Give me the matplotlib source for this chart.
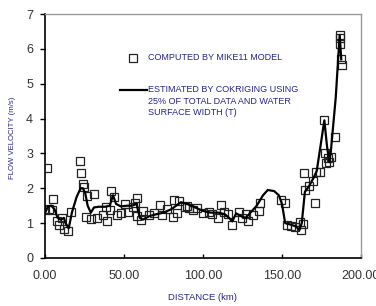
import matplotlib
matplotlib.use("Agg")
import matplotlib.pyplot as plt

plt.rcParams['font.family'] = ['Liberation Sans', 'DejaVu Sans']

# computed by MIKE11 (squares)
comp_x = [0, 1.3, 2.5, 4.4, 5, 7.6, 9, 10.8, 12, 14.6, 16.5, 22, 22.5, 24, 24.7, 26, 26.6,
          29, 31, 32.8, 36.7, 38.6, 39, 41, 41.8, 43.7, 45.5, 48, 50.6, 52.5, 55.7, 57, 58,
          58, 60.6, 62, 66, 69, 73, 74, 77, 81, 81.6, 83.5, 84.8, 88.6, 90, 91, 93.7, 96,
          100, 103.8, 106, 109.5, 111.4, 113, 115.8, 118.4, 122.8, 124.7, 127, 128.5, 131.6,
          135.4, 136, 149.4, 152, 153, 155.7, 158, 161.4, 162, 163.3, 163.9, 164.6, 167,
          169.6, 171, 171.5, 174, 176.6, 177, 178, 179, 180, 181, 183.5, 186.7, 186.8, 187,
          187.5, 188]
comp_y = [1.38, 2.59, 1.41, 1.38, 1.70, 1.06, 0.95, 1.15, 0.83, 0.78, 1.32, 2.79, 2.44, 2.13,
          2.04, 1.18, 1.78, 1.12, 1.84, 1.15, 1.24, 1.47, 1.06, 1.38, 1.93, 1.76, 1.24, 1.29,
          1.55, 1.32, 1.47, 1.58, 1.73, 1.21, 1.09, 1.35, 1.24, 1.29, 1.52, 1.24, 1.41, 1.18,
          1.67, 1.29, 1.64, 1.47, 1.50, 1.44, 1.38, 1.44, 1.29, 1.32, 1.27, 1.15, 1.52, 1.32,
          1.27, 0.95, 1.32, 1.15, 1.27, 1.06, 1.24, 1.35, 1.58, 1.67, 1.58, 0.95, 0.92, 0.89,
          1.04, 0.81, 0.98, 2.44, 1.96, 2.07, 2.22, 1.58, 2.47, 2.47, 3.97, 3.02, 2.73, 2.88,
          2.76, 2.91, 3.48, 6.40, 6.30, 6.15, 5.70, 5.55]

# estimated by cokriging (line)
est_x = [0, 2, 4, 6, 8, 10, 12, 13, 15, 17, 20, 22.5, 24, 25.5, 27, 29, 31, 34, 38, 41, 43,
         45, 48, 52, 55, 58, 60, 62, 66, 70, 75, 80, 83, 86, 90, 95, 100, 105, 110, 114,
         116.5, 118.5, 121, 124, 127, 130, 134, 138, 141, 145, 148, 150, 152, 156, 159, 161,
         162.5, 164.5, 167, 170, 172, 174, 176.8, 178.5, 180, 181, 184, 186.5, 187.5]
est_y = [1.3, 1.48, 1.5, 1.4, 1.15, 1.1, 1.15, 1.0, 0.85, 1.3, 1.75, 2.0, 2.0, 1.85, 1.5,
         1.3, 1.45, 1.47, 1.47, 1.5, 1.8, 1.55, 1.48, 1.5, 1.5, 1.55, 1.15, 1.1, 1.2, 1.25,
         1.3, 1.4, 1.5, 1.6, 1.55, 1.45, 1.35, 1.3, 1.3, 1.25, 1.15, 1.05, 1.28, 1.2, 1.15,
         1.3, 1.5, 1.8, 1.95, 1.92, 1.8, 1.55, 1.0, 0.95, 0.9, 0.8, 1.0, 1.9, 2.05, 2.3, 2.5,
         3.1, 3.95, 3.2, 2.75, 3.1, 4.6, 6.4, 5.7]

x_ticks = [0, 50, 100, 150, 200]
x_labels = ["0.00", "50.00", "100.00", "150.00", "200.00"]
y_ticks = [0, 1, 2, 3, 4, 5, 6, 7]

blue = '#24248c'

fig = plt.figure(figsize=(3.76, 3.06), dpi=100)
ax = fig.add_axes([0.1197, 0.157, 0.8404, 0.797])

ax.plot(est_x, est_y, color='black', lw=1.6, zorder=3)
ax.plot(comp_x, comp_y, ls='none', marker='s', ms=5.3, mfc='none', mec='#222222',
        mew=0.9, zorder=2)

ax.set_xlim(0, 200)
ax.set_ylim(0, 7)
ax.set_xticks(x_ticks)
ax.set_xticklabels(x_labels)
ax.set_yticks(y_ticks)
ax.tick_params(axis='x', direction='in', length=3, width=1, colors='black',
               labelcolor='#333333', labelsize=9, pad=9)
ax.tick_params(axis='y', direction='out', length=3.6, width=1, colors='black',
               labelcolor='#333333', labelsize=9, pad=5)

for s in ['top', 'right']:
    ax.spines[s].set_color('#999999')
    ax.spines[s].set_linewidth(1)
for s in ['left', 'bottom']:
    ax.spines[s].set_color('black')
    ax.spines[s].set_linewidth(1.2)

fig.text(203 / 376, 1 - 298 / 306, "DISTANCE (km)", color=blue, fontsize=6.8,
         ha='center', va='center')
fig.text(13 / 376, 1 - 138 / 306, "FLOW VELOCITY (m/s)", color=blue, fontsize=5.6,
         ha='center', va='center', rotation=90)

# legend drawn by hand like the original
ax.plot([55.7], [5.75], ls='none', marker='s', ms=5.3, mfc='none',
        mec='#222222', mew=0.9)
ax.text(65, 5.75, "COMPUTED BY MIKE11 MODEL", color=blue, fontsize=6.5,
        va='center', ha='left')
ax.plot([47.5, 64.5], [4.83, 4.83], color='black', lw=1.6)
ax.text(65, 4.83 + 0.12, "ESTIMATED BY COKRIGING USING\n25% OF TOTAL DATA AND WATER\nSURFACE WIDTH (T)",
        color=blue, fontsize=6.5, va='top', ha='left', linespacing=1.3)

fig.savefig("out.png", dpi=100)
